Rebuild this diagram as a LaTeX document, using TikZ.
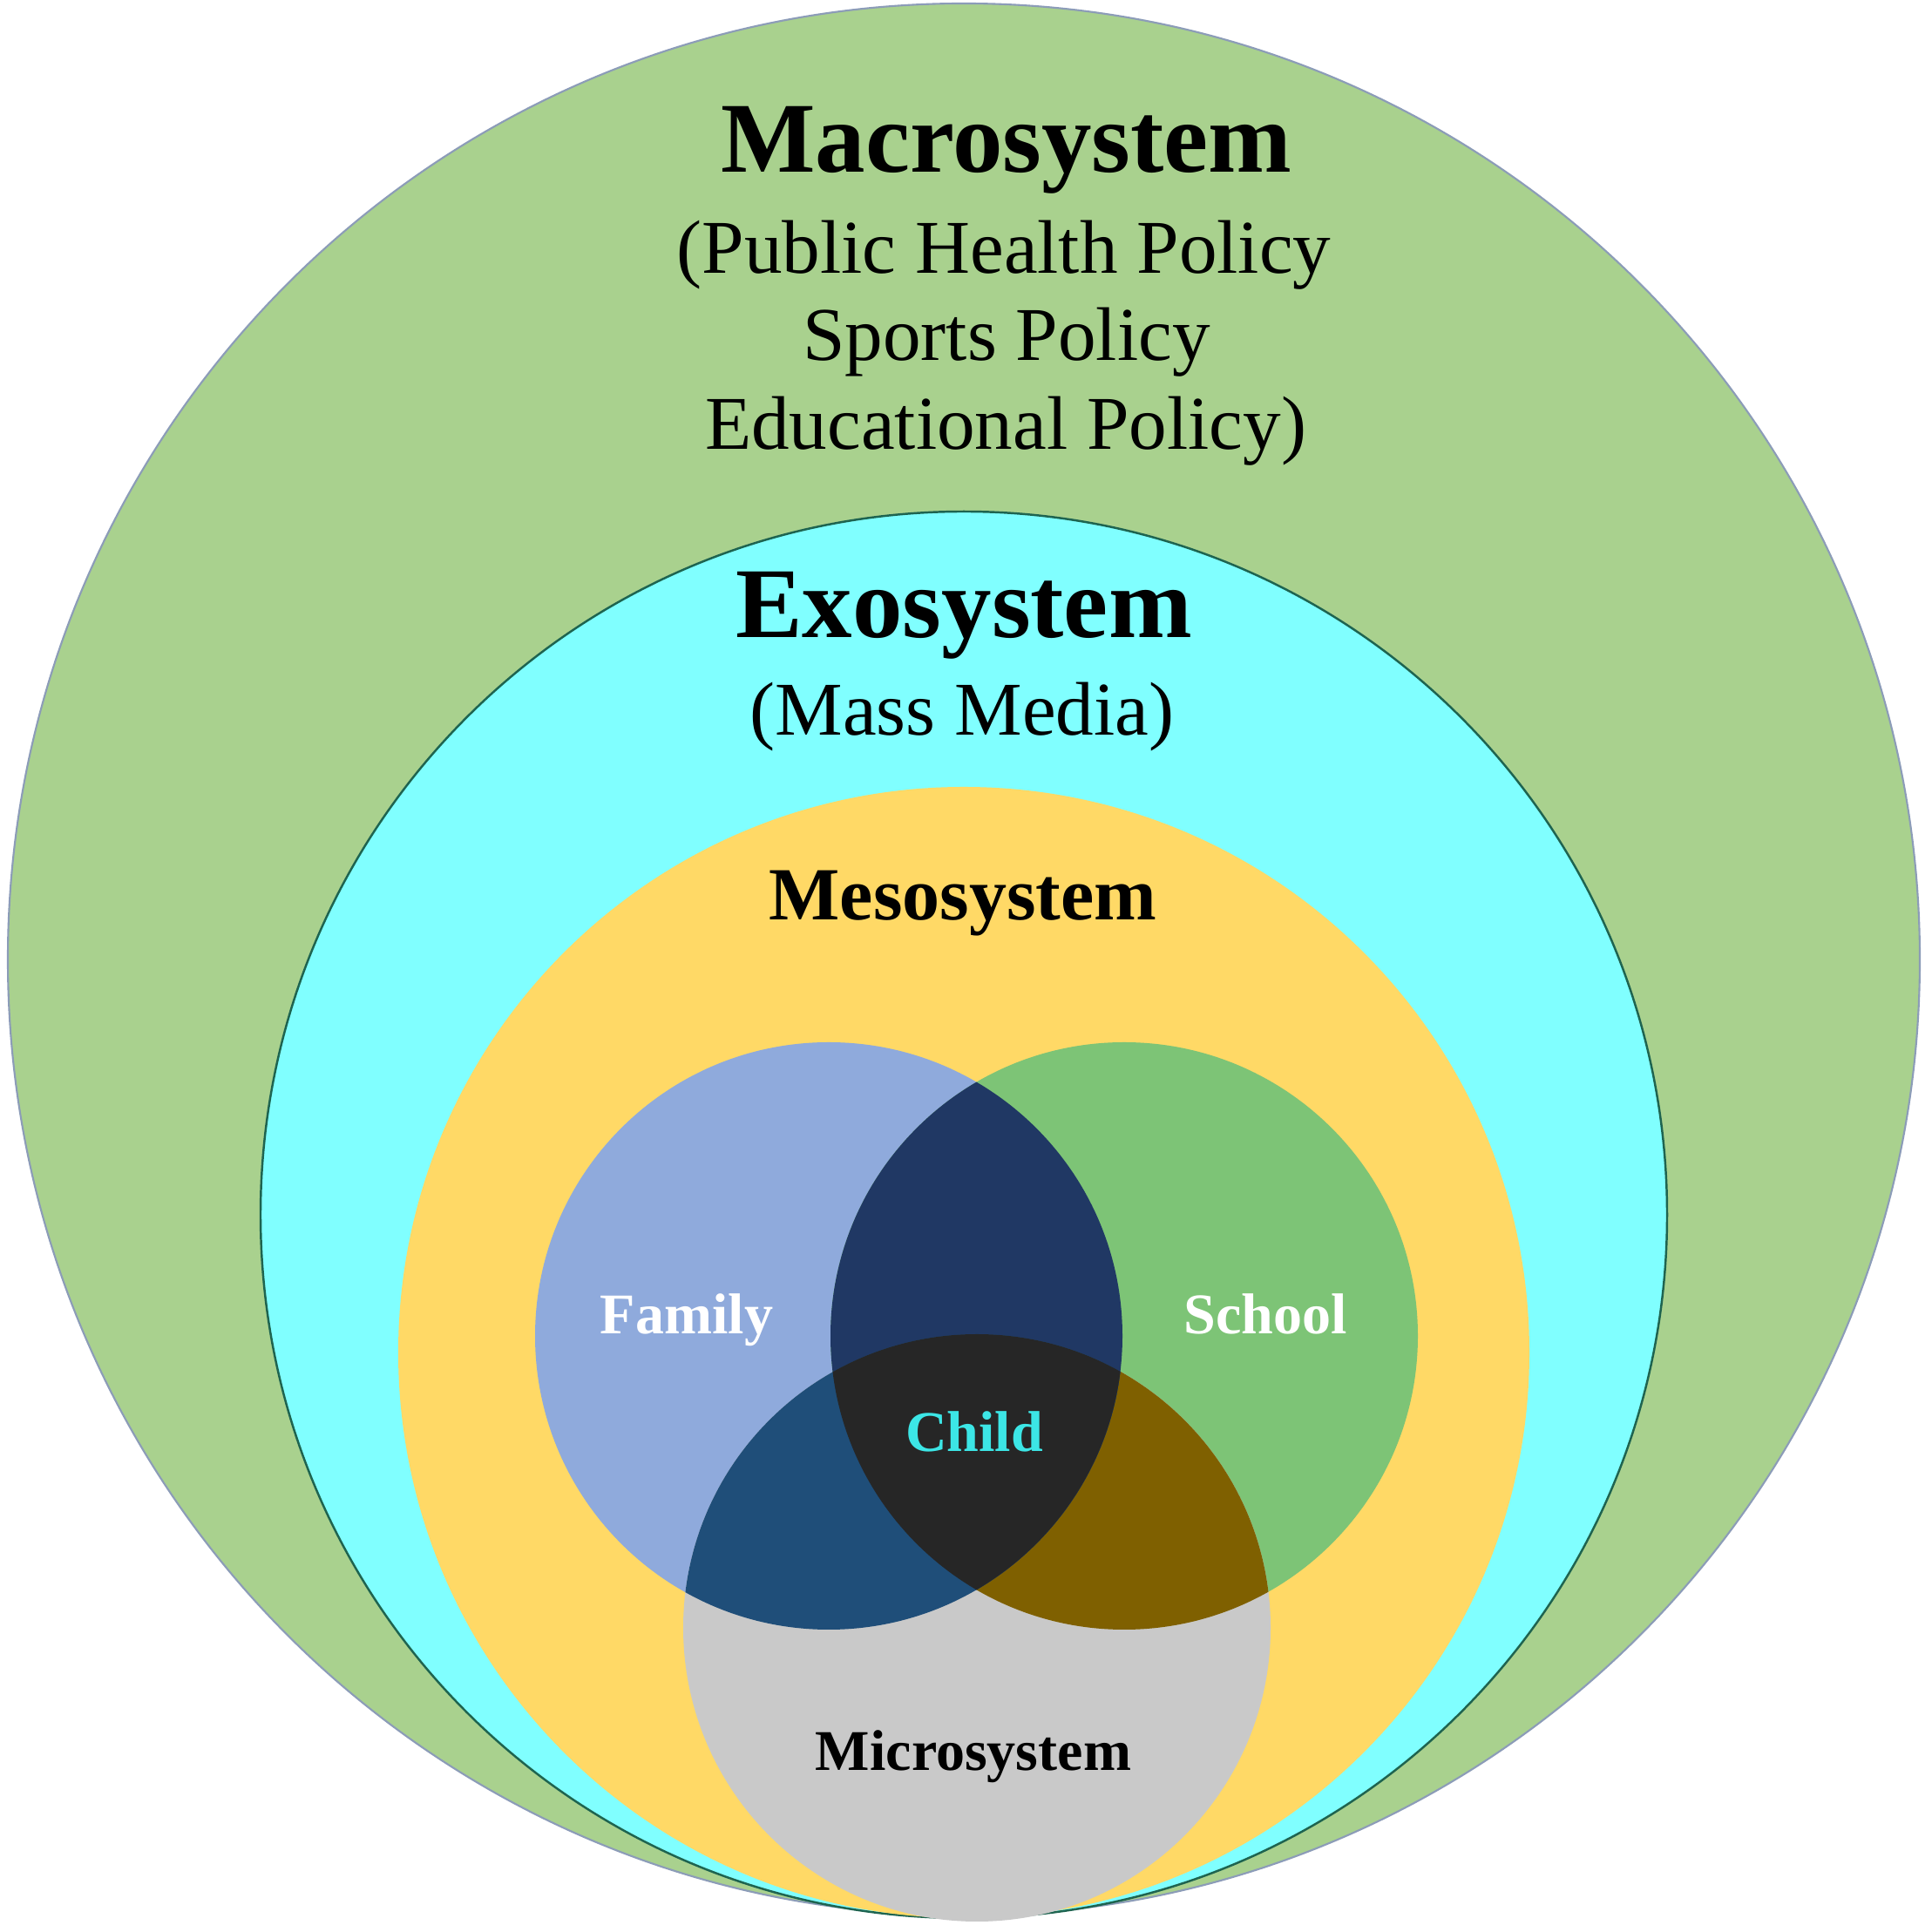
\documentclass[tikz,border=0pt]{standalone}
\usepackage{fontspec}
\setmainfont{Liberation Serif}
\usepackage{tikz}
\usepackage{xcolor}

\definecolor{macrogreen}{RGB}{169,209,142}
\definecolor{macroline}{RGB}{140,156,184}
\definecolor{exocyan}{RGB}{128,255,255}
\definecolor{exoline}{RGB}{30,100,80}
\definecolor{mesoyellow}{RGB}{255,217,102}
\definecolor{famblue}{RGB}{143,170,220}
\definecolor{schgreen}{RGB}{125,196,118}
\definecolor{micgray}{RGB}{201,201,201}
\definecolor{famsch}{RGB}{32,56,100}
\definecolor{fammic}{RGB}{31,78,121}
\definecolor{schmic}{RGB}{127,96,0}
\definecolor{allthree}{RGB}{38,38,38}
\definecolor{childcyan}{RGB}{60,230,230}

\begin{document}
\begin{tikzpicture}[
    titlelabel/.style={font=\fontsize{32.7}{36}\selectfont\bfseries, inner sep=0pt, anchor=base},
    policylabel/.style={font=\fontsize{24.8}{28}\selectfont, inner sep=0pt, anchor=base},
    mesolabel/.style={font=\fontsize{24.5}{28}\selectfont\bfseries, inner sep=0pt, anchor=base},
    vennlabel/.style={font=\fontsize{18.8}{22}\selectfont\bfseries, inner sep=0pt, anchor=base}]
  \useasboundingbox (0,0) rectangle (22.17,22.17);
  \fill[white] (0,0) rectangle (22.17,22.17);

  \coordinate (macc) at (11.06,11.16);
  \coordinate (exoc) at (11.06,8.23);
  \coordinate (mesoc) at (11.06,6.65);
  \coordinate (famc) at (9.51,6.84);
  \coordinate (schc) at (12.90,6.84);
  \coordinate (micc) at (11.21,3.49);

  \filldraw[fill=macrogreen, draw=macroline, line width=.6pt] (macc) circle (10.97);
  \filldraw[fill=exocyan, draw=exoline, line width=.7pt] (exoc) circle (8.07);
  \fill[mesoyellow] (mesoc) circle (6.49);
  \fill[famblue] (famc) circle (3.37);
  \fill[schgreen] (schc) circle (3.37);
  \fill[micgray] (micc) circle (3.37);
  \begin{scope}
    \clip (schc) circle (3.37);
    \fill[schmic] (micc) circle (3.37);
  \end{scope}
  \begin{scope}
    \clip (famc) circle (3.37);
    \fill[famsch] (schc) circle (3.37);
    \fill[fammic] (micc) circle (3.37);
    \clip (schc) circle (3.37);
    \fill[allthree] (micc) circle (3.37);
  \end{scope}

  \node (macro) [titlelabel] at (11.55,20.19) {Macrosystem};
  \node (health) [policylabel] at (11.52,19.03) {(Public Health Policy};
  \node (sports) [policylabel] at (11.55,18.03) {Sports Policy};
  \node (edu) [policylabel] at (11.54,17.01) {Educational Policy)};
  \node (exo) [titlelabel] at (11.06,14.85) {Exosystem};
  \node (media) [policylabel] at (11.04,13.73) {(Mass Media)};
  \node (meso) [mesolabel] at (11.05,11.61) {Mesosystem};
  \node (family) [vennlabel, white] at (7.88,6.86) {Family};
  \node (school) [vennlabel, white] at (14.52,6.86) {School};
  \node (child) [vennlabel, childcyan] at (11.18,5.51) {Child};
  \node (micro) [vennlabel] at (11.17,1.85) {Microsystem};
\end{tikzpicture}
\end{document}
